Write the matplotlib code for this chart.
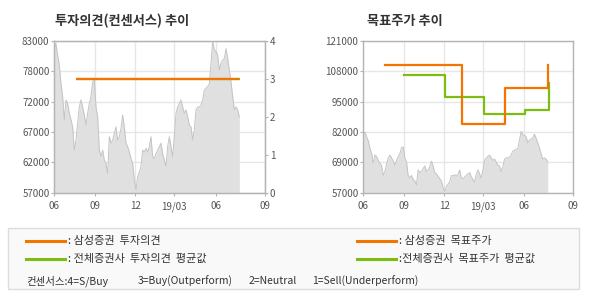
import numpy as np
import matplotlib
matplotlib.use("Agg")
import matplotlib.pyplot as plt
from matplotlib.patches import Rectangle
from matplotlib.lines import Line2D

plt.rcParams['font.family'] = ['Noto Sans CJK KR', 'DejaVu Sans']

# daily close price (index = trading step)
prices = [81400, 82600, 80600, 78900, 75700, 73500, 69500, 72900, 72300, 70600,
          69500, 68300, 64300, 66000, 68900, 71700, 72900, 71700, 70300, 68600,
          70600, 72300, 73500, 76000, 76300, 71700, 70000, 64300, 63200, 64300,
          62600, 62000, 60300, 66600, 65500, 66000, 67200, 68300, 66000, 66600,
          68000, 70300, 68300, 65500, 64900, 64000, 62900, 62000, 59200, 57500,
          59700, 60600, 61500, 64300, 64000, 64600, 64000, 64900, 66600, 63200,
          62900, 63700, 64300, 64900, 65500, 63700, 62600, 61500, 64900, 66600,
          64900, 63200, 66600, 70600, 71700, 72300, 72900, 71700, 70600, 71200,
          70000, 68600, 68300, 66000, 67800, 71200, 71700, 71700, 72000, 72900,
          74600, 74900, 75200, 75700, 79200, 82900, 81500, 81200, 80600, 78000,
          79200, 79700, 80000, 81700, 80000, 78000, 76000, 73500, 71200, 71700,
          71200, 70000]

tick_pos = [0, 24.3, 48.6, 72, 96.8, 126.4]
tick_labels = ['06', '09', '12', '19/03', '06', '09']

# investment opinion (1-4 scale)
opinion_x = [13, 111]
opinion = [3, 3]
avg_opinion_x = [13, 111.6]
avg_opinion = [3, 3]

# target price
tp_x = [13.2, 59.4, 85.3, 110.9, 110.9]
tp = [111000, 86000, 101000, 101000, 111000]
avg_tp_x = [24.3, 49.1, 72.4, 97.3, 111.7, 111.7]
avg_tp = [106700, 97400, 90200, 91900, 91900, 103100]

left_yticks = ['57000', '62000', '67000', '72000', '78000', '83000']
right_yticks = ['57000', '69000', '82000', '95000', '108000', '121000']

consensus_notes = ['컨센서스:4=S/Buy', '3=Buy(Outperform)', '2=Neutral',
                   '1=Sell(Underperform)']

ORANGE = '#f37500'
GREEN = '#7dbd10'
SPINE = '#b4b4b4'
GRID = '#e6e6e6'

fig = plt.figure(figsize=(5.9, 3.0), dpi=100)


def style_axes(ax, ylo, yhi, labels):
    xs = np.arange(len(prices))
    ax.fill_between(xs, ylo, prices, color='#e0e0e0', lw=0, zorder=1)
    ax.plot(xs, prices, color='#c4c4c4', lw=0.7, zorder=2)
    ax.set_xlim(0, 126.4)
    ax.set_ylim(ylo, yhi)
    ax.set_xticks(tick_pos)
    ax.set_xticklabels(tick_labels)
    ax.set_yticks(np.linspace(ylo, yhi, 6))
    ax.set_yticklabels(labels)
    ax.grid(True, color=GRID, lw=1, zorder=0)
    ax.set_axisbelow(True)
    for s in ax.spines.values():
        s.set_color(SPINE)
        s.set_linewidth(1)
    ax.tick_params(axis='y', length=2, pad=1.5, color=SPINE, labelcolor='#555555',
                   labelsize=7)
    ax.tick_params(axis='x', length=2, pad=4, color=SPINE, labelcolor='#555555',
                   labelsize=7)


# left chart: opinion
ax1 = fig.add_axes([54.3 / 590, 107.3 / 300, 210.7 / 590, 151.7 / 300])
style_axes(ax1, 57000, 83000, left_yticks)
ax1b = ax1.twinx()
ax1b.set_ylim(0, 4)
ax1b.set_yticks([0, 1, 2, 3, 4])
ax1b.tick_params(axis='y', length=2, pad=1.5, color=SPINE, labelcolor='#555555',
                 labelsize=7)
for s in ax1b.spines.values():
    s.set_color(SPINE)
ax1b.plot(avg_opinion_x, avg_opinion, color=GREEN, lw=1.6, solid_capstyle='butt')
ax1b.plot(opinion_x, opinion, color=ORANGE, lw=1.6, solid_capstyle='butt')

# right chart: target price
ax2 = fig.add_axes([363.3 / 590, 107.3 / 300, 210 / 590, 151.7 / 300])
style_axes(ax2, 57000, 121000, right_yticks)
ax2.plot(avg_tp_x, avg_tp, color=GREEN, lw=1.6, drawstyle='steps-post', zorder=3)
ax2.plot(tp_x, tp, color=ORANGE, lw=1.6, drawstyle='steps-post', zorder=4)

# titles
fig.text(55 / 590, 1 - 20.7 / 300, '투자의견(컨센서스) 추이', fontsize=9.5,
         fontweight='bold', color='#333333', va='center', ha='left')
fig.text(367 / 590, 1 - 20.7 / 300, '목표주가 추이', fontsize=9.5,
         fontweight='bold', color='#333333', va='center', ha='left')

# legend box
fig.patches.append(Rectangle((8 / 590, 11 / 300), 571 / 590, 61 / 300,
                             transform=fig.transFigure, facecolor='#f9f9f9',
                             edgecolor='#dcdcdc', lw=1))

legend_rows = [
    (26, 240.7, ORANGE, ': 삼성증권  투자의견'),
    (26, 259, GREEN, ': 전체증권사  투자의견  평균값'),
    (357, 240.7, ORANGE, ': 삼성증권  목표주가'),
    (357, 259, GREEN, ':전체증권사  목표주가  평균값'),
]
for x, y, c, label in legend_rows:
    fig.lines.append(Line2D([x / 590, (x + 39) / 590], [1 - y / 300, 1 - y / 300],
                            transform=fig.transFigure, color=c, lw=2.2))
    fig.text((x + 42) / 590, 1 - y / 300, label, fontsize=8, color='#333333',
             va='center', ha='left')

for x, note in zip([26, 138, 249, 312.5], consensus_notes):
    fig.text(x / 590, 1 - 281 / 300, note, fontsize=7.5, color='#333333',
             va='center', ha='left')

fig.savefig('out.png', dpi=100)
